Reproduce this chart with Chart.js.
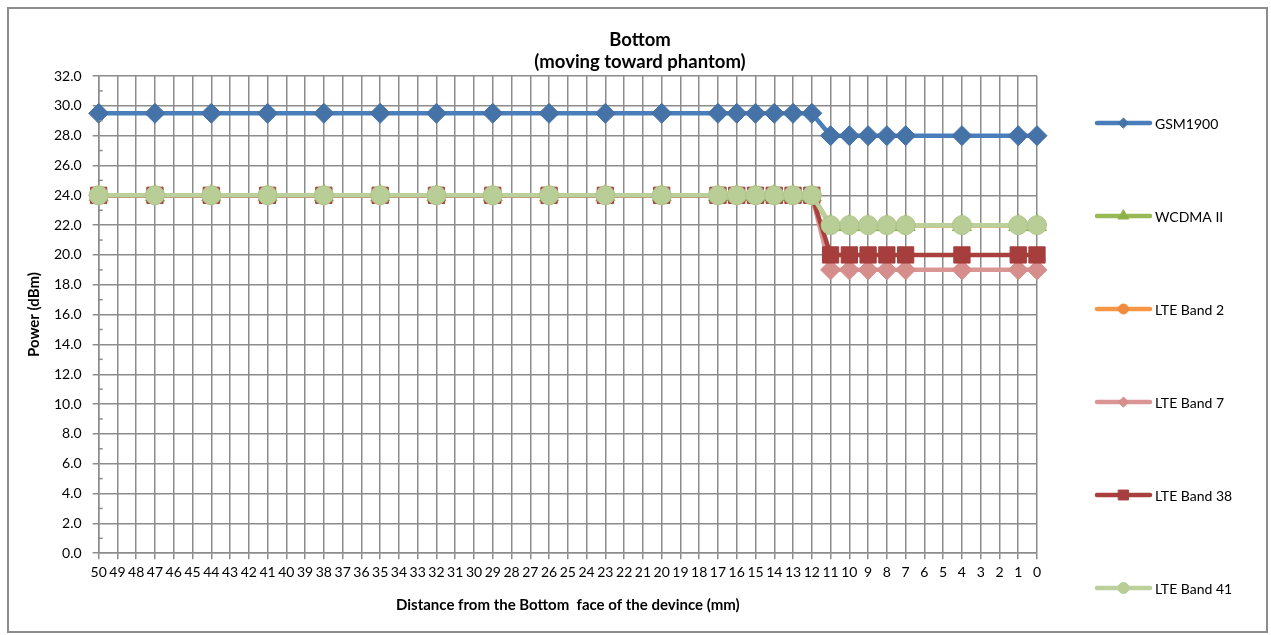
<!DOCTYPE html>
<html>
<head>
<meta charset="utf-8">
<script src="https://cdn.jsdelivr.net/npm/chart.js@4.4.1/dist/chart.umd.min.js"></script>
<style>
    html, body { margin: 0; padding: 0; background: #fff; }
    #wrap { position: relative; width: 1271px; height: 635px; }
</style>
</head>
<body>
<div id="wrap"><canvas id="chart" width="1271" height="635"></canvas></div>
<script>
// x axis: distance in mm, 50 down to 0
const categories = ['50', '49', '48', '47', '46', '45', '44', '43', '42', '41', '40', '39', '38', '37', '36', '35', '34',
    '33', '32', '31', '30', '29', '28', '27', '26', '25', '24', '23', '22', '21', '20', '19', '18', '17', '16', '15',
    '14', '13', '12', '11', '10', '9', '8', '7', '6', '5', '4', '3', '2', '1', '0'];

// distances where a measurement was taken
const distances = ['50', '47', '44', '41', '38', '35', '32', '29', '26', '23', '20', '17', '16', '15', '14', '13', '12',
    '11', '10', '9', '8', '7', '4', '1', '0'];

const gsm1900 = [29.5, 29.5, 29.5, 29.5, 29.5, 29.5, 29.5, 29.5, 29.5, 29.5, 29.5, 29.5, 29.5, 29.5, 29.5, 29.5, 29.5,
    28.0, 28.0, 28.0, 28.0, 28.0, 28.0, 28.0, 28.0];
const wcdma2 = [24.0, 24.0, 24.0, 24.0, 24.0, 24.0, 24.0, 24.0, 24.0, 24.0, 24.0, 24.0, 24.0, 24.0, 24.0, 24.0, 24.0,
    22.0, 22.0, 22.0, 22.0, 22.0, 22.0, 22.0, 22.0];
const lteBand2 = [24.0, 24.0, 24.0, 24.0, 24.0, 24.0, 24.0, 24.0, 24.0, 24.0, 24.0, 24.0, 24.0, 24.0, 24.0, 24.0, 24.0,
    22.0, 22.0, 22.0, 22.0, 22.0, 22.0, 22.0, 22.0];
const lteBand7 = [24.0, 24.0, 24.0, 24.0, 24.0, 24.0, 24.0, 24.0, 24.0, 24.0, 24.0, 24.0, 24.0, 24.0, 24.0, 24.0, 24.0,
    19.0, 19.0, 19.0, 19.0, 19.0, 19.0, 19.0, 19.0];
const lteBand38 = [24.0, 24.0, 24.0, 24.0, 24.0, 24.0, 24.0, 24.0, 24.0, 24.0, 24.0, 24.0, 24.0, 24.0, 24.0, 24.0, 24.0,
    20.0, 20.0, 20.0, 20.0, 20.0, 20.0, 20.0, 20.0];
const lteBand41 = [24.0, 24.0, 24.0, 24.0, 24.0, 24.0, 24.0, 24.0, 24.0, 24.0, 24.0, 24.0, 24.0, 24.0, 24.0, 24.0, 24.0,
    22.0, 22.0, 22.0, 22.0, 22.0, 22.0, 22.0, 22.0];

const titleLines = ['Bottom', '(moving toward phantom)'];

const FONT = 'Lato, "Open Sans", sans-serif';
const GRID = '#8c8c8c';

const toPoints = values => values.map((v, i) => ({ x: distances[i], y: v }));

const series = [
    { label: 'GSM1900', data: gsm1900, line: '#4A7EBB', fill: '#4572A7', style: 'rectRot', r: 10, lr: 5 },
    { label: 'WCDMA II', data: wcdma2, line: '#98B954', fill: '#8EB04B', style: 'triangle', r: 11, lr: 6 },
    { label: 'LTE Band 2', data: lteBand2, line: '#F79646', fill: '#F08A3C', style: 'circle', r: 8, lr: 5 },
    { label: 'LTE Band 7', data: lteBand7, line: '#D99694', fill: '#D58E8C', style: 'rectRot', r: 10, lr: 5 },
    { label: 'LTE Band 38', data: lteBand38, line: '#A9403E', fill: '#A53E3C', style: 'rect', r: 11.5, lr: 7 },
    { label: 'LTE Band 41', data: lteBand41, line: '#BBD09A', fill: '#B9CD96', style: 'circle', r: 9.5, lr: 5.5 },
];

// frame, title, minor y ticks and the spaced-out legend on the right
const decor = {
    id: 'decor',
    beforeDraw(chart) {
        const { ctx } = chart;
        ctx.save();
        ctx.fillStyle = '#fff';
        ctx.fillRect(0, 0, chart.width, chart.height);
        ctx.strokeStyle = '#8c8c8c';
        ctx.lineWidth = 2;
        ctx.strokeRect(8, 8, 1259, 624);

        ctx.fillStyle = '#000';
        ctx.font = 'bold 18.5px ' + FONT;
        ctx.textAlign = 'center';
        ctx.textBaseline = 'middle';
        titleLines.forEach((t, i) => ctx.fillText(t, 640, 40 + i * 22));
        ctx.restore();
    },
    afterDatasetsDraw(chart) {
        const { ctx } = chart;
        const y = chart.scales.y;
        const left = chart.chartArea.left;
        ctx.save();
        ctx.strokeStyle = GRID;
        ctx.lineWidth = 1.5;
        for (let v = 1; v < 32; v += 2) {
            const py = y.getPixelForValue(v);
            ctx.beginPath();
            ctx.moveTo(left, py);
            ctx.lineTo(left + 4, py);
            ctx.stroke();
        }

        // legend
        const x0 = 1097, x1 = 1150, top = 123, step = 93;
        ctx.font = '14px ' + FONT;
        ctx.textBaseline = 'middle';
        series.forEach((s, i) => {
            const ly = top + i * step;
            ctx.strokeStyle = s.line;
            ctx.lineWidth = 4.5;
            ctx.lineCap = 'round';
            ctx.beginPath();
            ctx.moveTo(x0, ly);
            ctx.lineTo(x1, ly);
            ctx.stroke();
            ctx.fillStyle = s.fill;
            ctx.strokeStyle = s.fill;
            ctx.lineWidth = 1;
            Chart.helpers.drawPoint(ctx, { pointStyle: s.style, radius: s.lr, borderWidth: 1, rotation: 0 },
                (x0 + x1) / 2, ly);
            ctx.fillStyle = '#000';
            ctx.fillText(s.label, x1 + 5, ly + 1);
        });
        ctx.restore();
    }
};

new Chart(document.getElementById('chart'), {
    type: 'line',
    data: {
        labels: categories,
        datasets: series.map((s, i) => ({
            label: s.label,
            data: toPoints(s.data),
            borderColor: s.line,
            backgroundColor: s.fill,
            borderWidth: 4.5,
            pointStyle: s.style,
            pointRadius: s.r,
            pointHoverRadius: s.r,
            pointBackgroundColor: s.fill,
            pointBorderColor: s.style === 'circle' ? '#AFC58B' : s.fill,
            pointBorderWidth: 1,
            tension: 0,
            order: series.length - i,
        }))
    },
    plugins: [decor],
    options: {
        responsive: false,
        animation: false,
        events: [],
        layout: { padding: { left: 25, right: 234, top: 76, bottom: 21 } },
        plugins: {
            legend: { display: false },
            tooltip: { enabled: false },
            title: { display: false },
        },
        scales: {
            x: {
                offset: false,
                grid: { color: GRID, lineWidth: 1.5, tickLength: 6, offset: false },
                border: { color: GRID, width: 1.5 },
                ticks: {
                    color: '#000', autoSkip: false, maxRotation: 0, padding: 5,
                    font: { family: FONT, size: 14 },
                },
                title: {
                    display: true,
                    text: 'Distance from the Bottom  face of the devince (mm)',
                    color: '#000',
                    font: { family: FONT, size: 15, weight: 'bold' },
                    padding: { top: 10, bottom: 0 },
                },
            },
            y: {
                min: 0,
                max: 32,
                grid: { color: GRID, lineWidth: 1.5, tickLength: 6 },
                border: { color: GRID, width: 1.5 },
                ticks: {
                    stepSize: 2, color: '#000', padding: 11,
                    font: { family: FONT, size: 14 },
                    callback: v => v.toFixed(1),
                },
                title: {
                    display: true,
                    text: 'Power (dBm)',
                    color: '#000',
                    font: { family: FONT, size: 15, weight: 'bold' },
                    padding: { top: 0, bottom: 0 },
                },
            },
        },
    },
});
</script>
</body>
</html>
